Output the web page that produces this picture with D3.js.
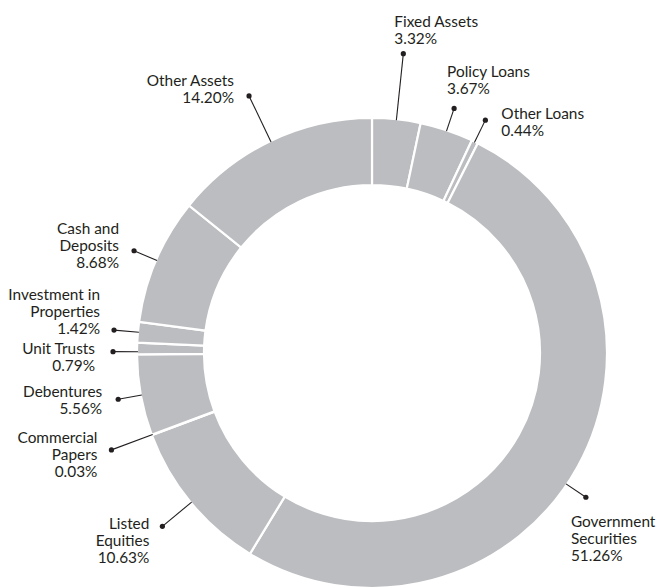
<!DOCTYPE html>
<html>
<head>
<meta charset="utf-8">
<script src="https://cdn.jsdelivr.net/npm/d3@7"></script>
<style>
  html, body { margin: 0; padding: 0; background: #fff; }
  svg { display: block; }
  text { font-family: Lato, "Open Sans", sans-serif; font-size: 15.4px; font-weight: 400; fill: #231f20; }
</style>
</head>
<body>
<svg id="chart" width="660" height="587"></svg>
<script>
// ---- data ----
const categories = ["Fixed Assets", "Policy Loans", "Other Loans", "Government Securities",
  "Listed Equities", "Commercial Papers", "Debentures", "Unit Trusts",
  "Investment in Properties", "Cash and Deposits", "Other Assets"];
const values = [3.32, 3.67, 0.44, 51.26, 10.63, 0.03, 5.56, 0.79, 1.42, 8.68, 14.20];
const labelLines = [
  ["Fixed Assets"], ["Policy Loans"], ["Other Loans"], ["Government", "Securities"],
  ["Listed", "Equities"], ["Commercial", "Papers"], ["Debentures"], ["Unit Trusts"],
  ["Investment in", "Properties"], ["Cash and", "Deposits"], ["Other Assets"]
];

// ---- layout (label placement: dot radius, optional angle override in degrees, text offset from dot) ----
const dotRadius  = [301, 258, 259, 258, 272, 278, 258, 259, 259, 259, 285];
const dotAngle   = [null, null, null, 124, null, null, null, 270.3, null, null, null];
const textDx     = [-9, -7, 16, -15, -13, -14, -16, -18, -14, -15, -15];
const textDy     = [-27, -31, -1, 30, 3, -7, -2, 2, -30, -17, -10];
const textAnchor = ["start", "start", "start", "start", "end", "end", "end", "end", "end", "end", "end"];
const lineH = 17;

const cx = 372, cy = 353, R = 235, r = 168;
const svg = d3.select("#chart");
const g = svg.append("g").attr("transform", `translate(${cx},${cy})`);

const data = categories.map((c, i) => ({ name: c, value: values[i], lines: labelLines[i], i }));
const pie = d3.pie().value(d => d.value).sort(null);
const arcs = pie(data);
const arc = d3.arc().innerRadius(r).outerRadius(R);

g.selectAll("path.slice").data(arcs).join("path")
  .attr("class", "slice")
  .attr("d", arc)
  .attr("fill", "#bcbdc0")
  .attr("stroke", "#ffffff")
  .attr("stroke-width", 2.2)
  .attr("stroke-linejoin", "miter");

const toRad = a => a * Math.PI / 180;
const polar = (ang, rad) => [Math.sin(ang) * rad, -Math.cos(ang) * rad];

arcs.forEach((a, i) => {
  const mid = (a.startAngle + a.endAngle) / 2;
  const ang = dotAngle[i] != null ? toRad(dotAngle[i]) : mid;
  const p0 = polar(ang, R - 1);
  const p1 = polar(ang, dotRadius[i]);
  g.append("line")
    .attr("x1", p0[0]).attr("y1", p0[1])
    .attr("x2", p1[0]).attr("y2", p1[1])
    .attr("stroke", "#231f20").attr("stroke-width", 1.1);
  g.append("circle")
    .attr("cx", p1[0]).attr("cy", p1[1]).attr("r", 2.6)
    .attr("fill", "#231f20");
  const t = g.append("text")
    .attr("text-anchor", textAnchor[i])
    .attr("x", p1[0] + textDx[i])
    .attr("y", p1[1] + textDy[i]);
  const lines = labelLines[i].concat([values[i].toFixed(2) + "%"]);
  lines.forEach((ln, k) => {
    t.append("tspan")
      .attr("x", p1[0] + textDx[i])
      .attr("dy", k === 0 ? 0 : lineH)
      .text(ln);
  });
});
</script>
</body>
</html>
